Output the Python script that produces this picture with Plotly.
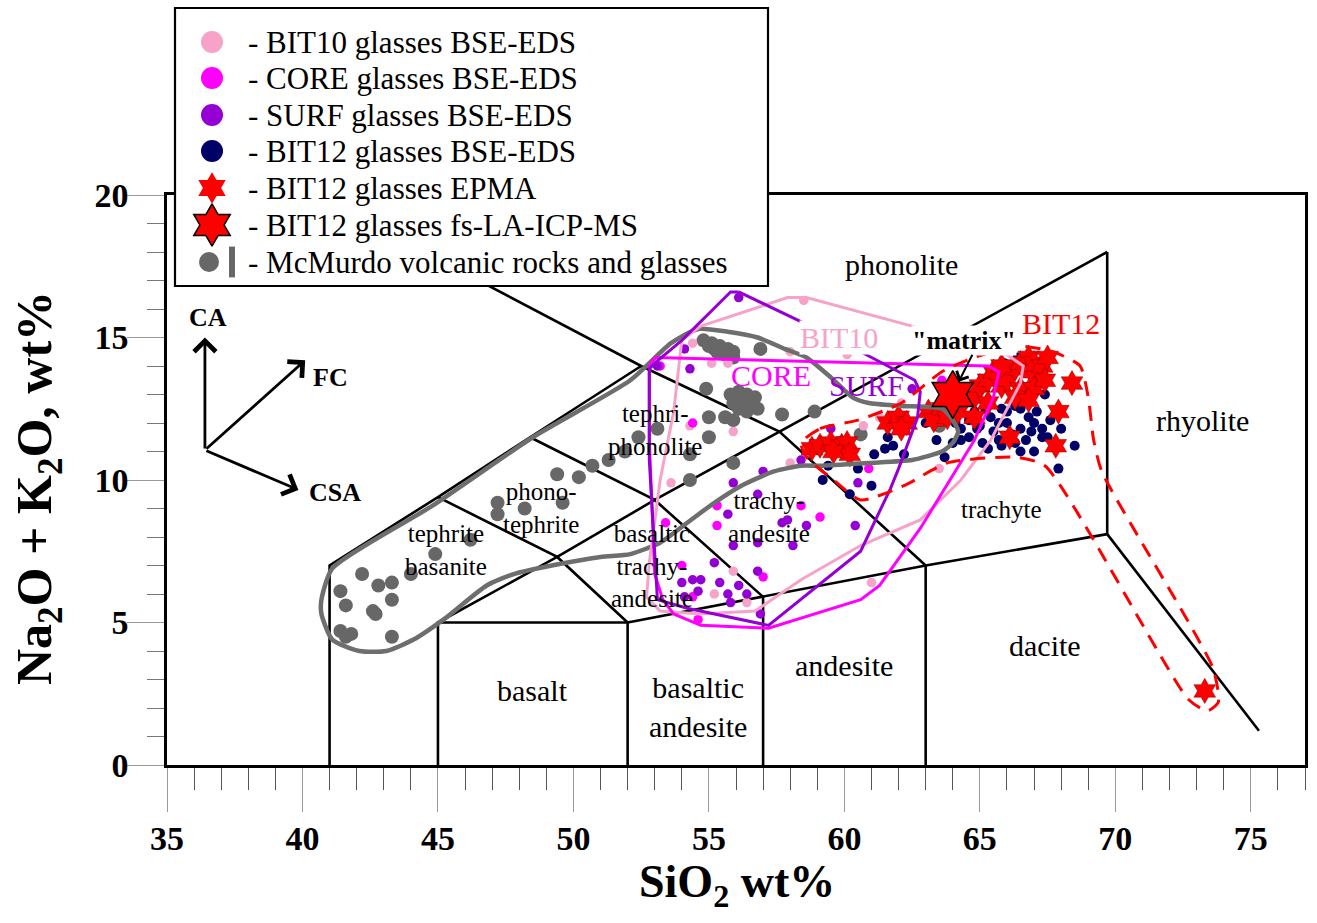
import plotly.graph_objects as go

W, H = 1317, 923
FONT = "Liberation Serif"

# ---------------- data (SiO2 wt%, Na2O+K2O wt%) ----------------
# TAS classification boundaries (segments separated by None)
tas_x = [41, 41, 45, 48.4, 52.5, None,
         52.5, 44.0, None,
         52.5, 57.6, 63, None,
         45, 49.4, 52, None,
         48.4, 53, 57, None,
         45, 49.4, 53, 57.6, 69.7, None,
         45, 45, 52, 52, None,
         52, 57, 63, 69.7, None,
         57, 57, None,
         63, 63, None,
         69.7, 69.7, None,
         69.7, 75.3]
tas_y = [0, 7, 9.4, 11.5, 14, None,
         14, 18.25, None,
         14, 11.7, 7, None,
         9.4, 7.3, 5, None,
         11.5, 9.3, 5.9, None,
         5, 7.3, 9.3, 11.7, 18.0, None,
         0, 5, 5, 0, None,
         5, 5.9, 7, 8.1, None,
         0, 5.9, None,
         0, 7, None,
         8.1, 18.0, None,
         8.1, 1.2]

# McMurdo volcanic rocks and glasses
mcm_x = [41.4, 41.6, 42.2, 42.8, 42.6, 42.7, 43.3, 43.3, 41.4, 41.8, 41.6, 43.3, 44.0, 44.9, 46.2,
         47.2, 47.2, 48.2, 49.4, 49.6, 50.2, 50.7, 51.3, 51.9, 52.4, 53.1, 54.3, 54.3, 55.9,
         54.9, 55.0, 55.0, 55.8, 56.1, 56.4, 56.7, 55.9, 56.3, 56.6, 56.8, 56.1, 56.4, 55.6, 55.9, 57.7, 58.9, 60.6, 63.5,
         54.8, 55.1, 55.4, 55.7, 55.9, 55.0, 55.2, 55.6, 55.9, 55.3, 56.9]
mcm_y = [6.1, 5.6, 6.7, 6.3, 5.4, 5.3, 6.4, 5.8, 4.7, 4.6, 4.5, 4.5, 6.7, 7.4, 7.9,
         9.2, 8.8, 9.0, 10.2, 9.2, 10.1, 10.5, 10.7, 11.0, 11.5, 11.8, 10.9, 10.0, 10.6,
         13.2, 12.2, 11.5, 13.0, 13.1, 13.0, 12.9, 12.7, 12.7, 12.6, 12.5, 12.5, 12.4, 12.2, 12.1, 12.3, 12.4, 11.6, 11.9,
         14.9, 14.8, 14.7, 14.6, 14.5, 14.7, 14.6, 14.4, 14.3, 14.5, 14.6]
mcm_out_x = [40.7, 41.1, 44.8, 48.5, 52.1, 53.6, 54.6, 55.7, 56.8, 57.8, 58.6, 59.5, 60.3, 60.9, 62.1,
             63.6, 64.0, 64.2, 64.0, 63.6, 62.5, 60.9, 59.1, 58.4, 57.4, 56.2, 55.2, 54.2, 53.2, 52.1,
             51.0, 49.2, 47.8, 46.8, 45.2, 44.1, 43.1, 42.1, 41.1, 40.7, 40.7]
mcm_out_y = [5.8, 6.9, 9.1, 11.5, 13.5, 14.8, 15.3, 15.2, 15.0, 14.6, 14.3, 13.6, 12.9, 12.7, 12.6,
             12.5, 12.1, 11.7, 11.3, 11.0, 10.7, 10.6, 10.5, 10.5, 10.3, 9.8, 9.2, 8.5, 7.8, 7.4,
             7.3, 7.0, 6.7, 6.3, 5.1, 4.4, 4.0, 4.0, 4.4, 5.3, 5.8]

# BIT10 glasses BSE-EDS
b10_x = [58.5, 54.4, 55.1, 55.7, 60.1, 58.0, 54.3, 55.9, 53.6, 58.0, 55.9, 55.2, 56.4, 61.0, 60.7, 61.3, 62.1, 63.6, 63.5]
b10_y = [16.3, 14.8, 14.1, 14.1, 14.4, 14.5, 11.9, 11.7, 9.9, 10.6, 6.8, 6.0, 5.7, 6.4, 11.9, 12.2, 12.7, 13.4, 10.4]
b10_out_x = [54.7, 57.9, 58.6, 60.6, 62.5, 66.0, 66.6, 66.5, 65.4, 64.3, 62.8, 60.6, 58.4, 56.7, 54.7, 53.2, 52.7, 52.8, 53.2, 53.7, 54.0, 54.7]
b10_out_y = [15.4, 16.4, 16.4, 15.9, 15.4, 14.4, 14.0, 13.4, 11.4, 10.0, 8.6, 7.7, 6.5, 5.4, 5.3, 5.4, 5.9, 7.1, 10.0, 12.4, 14.9, 15.4]

# CORE glasses BSE-EDS
core_x = [53.2, 54.4, 55.3, 55.3, 54.0, 58.4, 59.1, 57.0, 54.4, 54.6, 53.4, 60.9, 65.3, 63.6]
core_y = [14.0, 12.0, 9.1, 8.4, 7.0, 9.1, 8.7, 6.6, 5.9, 5.1, 8.5, 10.4, 13.5, 13.5]
core_out_x = [53.0, 65.3, 65.7, 65.5, 64.8, 63.9, 62.8, 61.3, 60.6, 57.2, 54.7, 53.7, 53.3, 53.0, 52.8, 52.8, 53.0]
core_out_y = [14.3, 14.0, 13.8, 12.9, 11.4, 10.0, 8.3, 6.3, 5.8, 4.8, 4.9, 5.3, 5.8, 6.7, 11.4, 14.0, 14.3]

# SURF glasses BSE-EDS
surf_x = [56.1, 54.1, 54.3, 53.1, 59.5, 57.0, 55.9, 56.8, 55.7, 57.7, 57.9, 58.6, 55.9, 56.8, 58.1, 55.2,
          56.8, 54.4, 54.7, 55.4, 56.1, 55.7, 56.4, 55.8, 54.0, 54.1, 54.6, 56.9, 60.4, 58.4, 62.5, 60.5]
surf_y = [16.4, 14.6, 13.9, 14.0, 11.8, 10.3, 9.9, 9.5, 8.8, 8.5, 8.6, 8.4, 7.7, 7.8, 7.7, 7.1,
          6.8, 6.5, 6.5, 6.4, 6.3, 6.0, 6.0, 5.7, 6.4, 5.9, 6.1, 5.3, 8.4, 10.7, 13.2, 9.9]
surf_out_x = [56.1, 58.3, 60.6, 62.6, 62.8, 62.7, 62.0, 61.7, 60.6, 57.2, 54.2, 53.1, 52.8, 52.8, 53.0, 54.0, 55.8, 56.1]
surf_out_y = [16.6, 15.6, 14.5, 13.5, 13.1, 12.2, 10.4, 9.7, 7.5, 4.9, 5.5, 5.8, 10.7, 13.9, 14.1, 14.9, 16.6, 16.6]

# BIT12 glasses BSE-EDS
b12_x = [61.6, 61.8, 61.5, 61.1, 60.0, 59.6, 59.2, 61.0, 60.5, 60.2, 62.2, 63.0, 63.7, 63.4, 64.0,
         64.3, 64.6, 64.8, 65.2, 65.4, 65.7, 65.8, 66.0, 66.3, 66.5, 66.8, 67.0, 67.3, 67.5, 66.9,
         66.5, 66.3, 65.7, 65.1, 65.3, 65.8, 66.5, 68.5, 67.9, 67.3, 65.9, 66.4, 64.3, 64.9, 67.6,
         68.0, 67.4, 64.1, 59.4, 66.0, 66.2, 65.5, 66.7, 67.1, 65.0, 64.6, 67.0]
b12_y = [11.5, 11.2, 11.1, 10.9, 11.1, 10.9, 10.0, 9.8, 10.4, 9.5, 10.9, 12.0, 10.8, 11.4, 11.3,
         11.8, 12.1, 12.4, 12.5, 12.2, 12.0, 12.5, 12.4, 12.6, 12.5, 12.2, 12.0, 11.8, 11.5, 11.7,
         11.8, 11.3, 11.4, 11.3, 11.1, 11.2, 11.0, 11.2, 10.4, 11.5, 14.1, 14.3, 11.4, 11.8, 12.1,
         11.8, 13.0, 12.0, 10.5, 12.0, 11.6, 11.7, 11.4, 12.4, 11.9, 11.5, 11.0]

# BIT12 glasses EPMA
epma_x = [58.8, 59.1, 59.5, 59.9, 60.1, 60.2, 59.6,
          61.6, 62.0, 62.3, 62.1, 63.1, 63.3, 63.6, 63.8, 64.2,
          64.8, 65.0, 65.3, 65.5, 65.8, 66.0, 66.3, 66.5, 66.8, 67.0, 66.9, 67.1, 67.3, 66.5, 66.3,
          67.0, 66.8, 65.8, 65.3, 64.8, 67.5, 67.4,
          68.4, 67.9, 66.1, 67.8, 73.3]
epma_y = [11.1, 11.2, 11.3, 11.2, 11.3, 10.9, 11.0,
          12.0, 12.2, 12.0, 11.8, 12.4, 12.1, 12.5, 12.2, 12.4,
          12.9, 13.3, 13.5, 13.8, 13.3, 13.5, 13.9, 14.1, 14.3, 14.1, 13.8, 13.6, 14.0, 13.2, 12.9,
          13.2, 12.8, 14.0, 12.7, 12.2, 14.3, 13.5,
          13.4, 12.4, 11.5, 11.2, 2.6]
b12_out_x = [58.4, 59.1, 60.5, 62.1, 63.6, 64.8, 66.4, 67.7, 68.7, 69.0, 69.2, 69.5, 73.6, 73.8,
             73.4, 72.7, 67.4, 66.3, 63.8, 62.2, 60.6, 59.6, 58.6, 58.4]
b12_out_y = [11.3, 11.8, 12.1, 12.7, 13.8, 14.3, 14.7, 14.5, 14.0, 12.9, 11.4, 10.3, 3.4, 2.2,
             1.9, 2.3, 10.5, 10.8, 10.6, 9.8, 9.3, 10.0, 10.8, 11.3]

# BIT12 glasses fs-LA-ICP-MS ("matrix")
la_x = [64.0]
la_y = [13.0]

# TAS field names: (text, SiO2, alkali, font size)
fields = [("phonolite", 62.1, 17.55, 30), ("rhyolite", 73.2, 12.1, 30), ("trachyte", 65.8, 8.95, 25),
          ("dacite", 67.4, 4.2, 30), ("andesite", 60.0, 3.5, 30), ("basalt", 48.5, 2.6, 30),
          ("basaltic<br>andesite", 54.6, 2.05, 30), ("trachy-<br>andesite", 57.2, 8.7, 25),
          ("basaltic<br>trachy-<br>andesite", 52.9, 7.0, 25), ("tephri-<br>phonolite", 53.0, 11.75, 25),
          ("phono-<br>tephrite", 48.8, 9.0, 25), ("tephrite<br>basanite", 45.3, 7.55, 25)]

legend_labels = ["- BIT10 glasses BSE-EDS", "- CORE glasses BSE-EDS", "- SURF glasses BSE-EDS",
                 "- BIT12 glasses BSE-EDS", "- BIT12 glasses EPMA", "- BIT12 glasses fs-LA-ICP-MS",
                 "- McMurdo volcanic rocks and glasses"]

C_B10, C_CORE, C_SURF, C_B12 = "#F7A2C8", "#FF00FF", "#9400D3", "#000066"
C_RED, C_GRAY, C_GRAYL = "#FF0000", "#676767", "#6E6E6E"

fig = go.Figure()

# TAS boundaries
fig.add_trace(go.Scatter(x=tas_x, y=tas_y, mode="lines", line=dict(color="black", width=2.6),
                         hoverinfo="skip", showlegend=False))

def pts(x, y, color, size, symbol="circle", line=None):
    fig.add_trace(go.Scatter(x=x, y=y, mode="markers", showlegend=False,
                             marker=dict(color=color, size=size, symbol=symbol,
                                         line=line or dict(width=0))))

pts(mcm_x, mcm_y, C_GRAY, 14)
pts(b10_x, b10_y, C_B10, 9.5)
pts(core_x, core_y, C_CORE, 9.5)
pts(surf_x, surf_y, C_SURF, 9.5)
pts(b12_x, b12_y, C_B12, 10)
pts(epma_x, epma_y, C_RED, 19, "hexagram", dict(width=0.5, color="#8a0000"))

def outline(x, y, color, width, dash="solid", shape="linear"):
    fig.add_trace(go.Scatter(x=x, y=y, mode="lines", showlegend=False, hoverinfo="skip",
                             line=dict(color=color, width=width, dash=dash, shape=shape, smoothing=0.6)))

outline(mcm_out_x, mcm_out_y, C_GRAYL, 4.5, shape="spline")
outline(b10_out_x, b10_out_y, C_B10, 3)
outline(core_out_x, core_out_y, C_CORE, 3)
outline(surf_out_x, surf_out_y, C_SURF, 3)
outline(b12_out_x, b12_out_y, C_RED, 3, dash="15px,10px", shape="spline")

pts(la_x, la_y, C_RED, 36, "hexagram", dict(width=1.5, color="black"))

# ---------- legend drawn on a pixel-space overlay subplot ----------
row_y = [42, 78, 115, 151, 188, 225, 262]
lx = 212
fig.add_trace(go.Scatter(x=[lx] * 4, y=row_y[:4], mode="markers", xaxis="x2", yaxis="y2",
                         showlegend=False, hoverinfo="skip",
                         marker=dict(size=22, color=[C_B10, C_CORE, C_SURF, C_B12])))
fig.add_trace(go.Scatter(x=[lx], y=[row_y[4]], mode="markers", xaxis="x2", yaxis="y2", showlegend=False,
                         hoverinfo="skip", marker=dict(size=24, color=C_RED, symbol="hexagram")))
fig.add_trace(go.Scatter(x=[lx], y=[row_y[5]], mode="markers", xaxis="x2", yaxis="y2", showlegend=False,
                         hoverinfo="skip", marker=dict(size=32, color=C_RED, symbol="hexagram",
                                                       line=dict(width=1.5, color="black"))))
fig.add_trace(go.Scatter(x=[lx - 3], y=[row_y[6]], mode="markers", xaxis="x2", yaxis="y2", showlegend=False,
                         hoverinfo="skip", marker=dict(size=20, color=C_GRAY)))
fig.add_trace(go.Scatter(x=[232], y=[row_y[6]], mode="markers", xaxis="x2", yaxis="y2", showlegend=False,
                         hoverinfo="skip", marker=dict(size=22, symbol="line-ns",
                                                       line=dict(width=6, color=C_GRAY))))

shapes = [dict(type="rect", xref="x2", yref="y2", x0=175, y0=8, x1=768, y1=286,
               line=dict(color="black", width=2.2), fillcolor="white", layer="below")]

annotations = []
for lab, yy in zip(legend_labels, row_y):
    annotations.append(dict(xref="x2", yref="y2", x=246, y=yy, text=lab, showarrow=False,
                            xanchor="left", yanchor="middle",
                            font=dict(family=FONT, size=31, color="black")))

for txt, fx, fy, fs in fields:
    annotations.append(dict(x=fx, y=fy, text=txt, showarrow=False, xanchor="center", yanchor="middle",
                            font=dict(family=FONT, size=fs, color="black")))

# series labels on the chart
for txt, fx, fy, col in [("BIT10", 59.8, 15.0, C_B10), ("CORE", 57.3, 13.65, C_CORE),
                         ("SURF", 60.8, 13.3, C_SURF), ("BIT12", 68.0, 15.5, C_RED)]:
    annotations.append(dict(x=fx, y=fy, text=txt, showarrow=False, bgcolor="white" if txt == "BIT10" else None,
                            borderpad=0, xanchor="center", yanchor="middle",
                            font=dict(family=FONT, size=30, color=col)))
annotations.append(dict(x=64.4, y=14.9, text='"matrix"', showarrow=False, bgcolor="white", borderpad=0,
                        xanchor="center", yanchor="middle",
                        font=dict(family=FONT, size=26, color="black", weight="bold")))
annotations.append(dict(x=64.22, y=13.45, ax=64.75, ay=14.45, axref="x", ayref="y", text="",
                        showarrow=True, arrowhead=4, arrowsize=1.3, arrowwidth=2, arrowcolor="black"))

# CA / FC / CSA vector diagram
ox, oy = 36.4, 11.05
for tx, ty in [(36.4, 15.0), (40.1, 14.2), (39.85, 9.65)]:
    annotations.append(dict(x=tx, y=ty, ax=ox, ay=oy, axref="x", ayref="y", text="",
                            showarrow=True, arrowhead=4, arrowsize=1.5, arrowwidth=2.8, arrowcolor="black"))
for txt, tx, ty in [("CA", 36.5, 15.7), ("FC", 41.05, 13.6), ("CSA", 41.2, 9.55)]:
    annotations.append(dict(x=tx, y=ty, text=txt, showarrow=False, xanchor="center", yanchor="middle",
                            font=dict(family=FONT, size=26, color="black", weight="bold")))

# axis titles
annotations.append(dict(xref="paper", yref="paper", x=737 / W, y=1 - 885 / H, showarrow=False,
                        xanchor="center", yanchor="middle",
                        text="SiO<sub>2</sub> wt%", font=dict(family=FONT, size=46, color="black", weight="bold")))
annotations.append(dict(xref="paper", yref="paper", x=38 / W, y=1 - 488 / H, showarrow=False, textangle=-90,
                        xanchor="center", yanchor="middle",
                        text="Na<sub>2</sub>O + K<sub>2</sub>O, wt%",
                        font=dict(family=FONT, size=50, color="black", weight="bold")))

tickfont = dict(family=FONT, size=34, color="black", weight="bold")
fig.update_layout(
    width=W, height=H, margin=dict(l=0, r=0, t=0, b=0, pad=0, autoexpand=False),
    paper_bgcolor="white", plot_bgcolor="rgba(0,0,0,0)",
    showlegend=False,
    xaxis=dict(domain=[167 / W, 1305 / W], range=[35, 77], tickvals=[35, 40, 45, 50, 55, 60, 65, 70, 75],
               ticks="outside", ticklen=44, tickwidth=1.2, tickcolor="#9a9a9a",
               minor=dict(dtick=1, ticks="outside", ticklen=22, tickwidth=1.2, tickcolor="#555555"),
               showline=True, linecolor="black", linewidth=2.5, mirror=True, showgrid=False, zeroline=False,
               tickfont=tickfont, ticklabelstandoff=-3, fixedrange=True, automargin=False),
    yaxis=dict(domain=[1 - 765 / H, 1 - 195 / H], range=[0, 20], tickvals=[0, 5, 10, 15, 20],
               ticks="outside", ticklen=37, tickwidth=1.2, tickcolor="#9a9a9a",
               minor=dict(dtick=1, ticks="outside", ticklen=17, tickwidth=1.2, tickcolor="#777777"),
               showline=True, linecolor="black", linewidth=2.5, mirror=True, showgrid=False, zeroline=False,
               tickfont=tickfont, ticklabelstandoff=-8, fixedrange=True, automargin=False),
    xaxis2=dict(domain=[0, 1], range=[0, W], visible=False, anchor="y2", fixedrange=True, automargin=False),
    yaxis2=dict(domain=[0, 1], range=[H, 0], visible=False, anchor="x2", fixedrange=True, automargin=False),
    shapes=shapes, annotations=annotations,
)

fig.write_html("out.html", config={"displayModeBar": False},
               post_script="document.body.style.margin='0px';document.body.style.overflow='hidden';")
